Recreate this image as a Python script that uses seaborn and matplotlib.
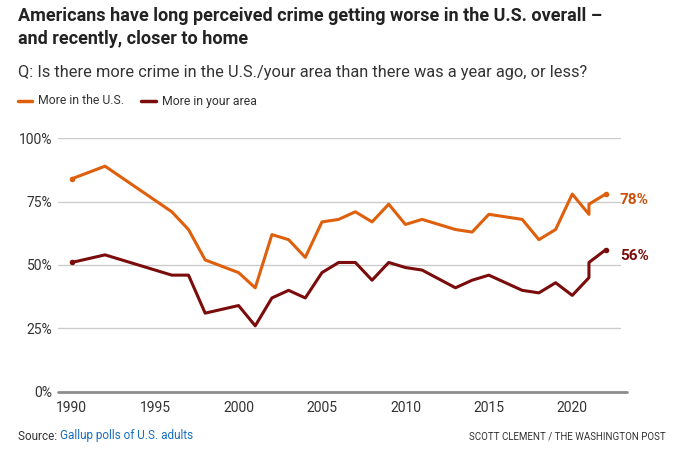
import matplotlib
matplotlib.use("Agg")
import matplotlib.pyplot as plt
import seaborn as sns
import pandas as pd
from matplotlib import font_manager

years = [1990, 1992, 1996, 1997, 1998, 2000, 2001, 2002, 2003, 2004, 2005, 2006,
         2007, 2008, 2009, 2010, 2011, 2013, 2014, 2015, 2017, 2018, 2019, 2020,
         2021, 2021, 2022]
us_values = [84, 89, 71, 64, 52, 47, 41, 62, 60, 53, 67, 68,
             71, 67, 74, 66, 68, 64, 63, 70, 68, 60, 64, 78,
             70, 74, 78]
area_values = [51, 54, 46, 46, 31, 34, 26, 37, 40, 37, 47, 51,
               51, 44, 51, 49, 48, 41, 44, 46, 40, 39, 43, 38,
               45, 51, 56]
series_names = ["More in the U.S.", "More in your area"]
y_ticks = [0, 25, 50, 75, 100]
x_ticks = [1990, 1995, 2000, 2005, 2010, 2015, 2020]

ORANGE = "#de5f0c"
DARK = "#7a0c0c"

sns.set_theme(style="white")
avail = {f.name for f in font_manager.fontManager.ttflist}
fam = [f for f in ["Liberation Sans Narrow", "Roboto", "DejaVu Sans"] if f in avail]
plt.rcParams["font.family"] = fam

df = pd.DataFrame({
    "year": years + years,
    "value": us_values + area_values,
    "series": [series_names[0]] * len(years) + [series_names[1]] * len(years),
})

fig = plt.figure(figsize=(6.77, 4.57), dpi=100)
ax = fig.add_axes([58 / 677, 65.3 / 457, (627 - 58) / 677, (318.7 - 65.3) / 457])

sns.lineplot(data=df, x="year", y="value", hue="series", palette=[ORANGE, DARK],
             estimator=None, sort=False, units="series", linewidth=2.2, ax=ax,
             legend=False)

# end markers
for vals, col in [(us_values, ORANGE), (area_values, DARK)]:
    ax.scatter([years[0], years[-1]], [vals[0], vals[-1]], s=16, color=col,
               zorder=5, clip_on=False, linewidths=0)

x0, x1 = 1989.18, 2023.28
ax.set_xlim(x0, x1)
ax.set_ylim(0, 100)

grid_end = 2022.85
for t in y_ticks[1:]:
    ax.plot([x0, grid_end], [t, t], color="#cccccc", lw=1, zorder=0)
ax.plot([x0, x1], [0, 0], color="#8c8c8c", lw=2, zorder=1, clip_on=False)

for s in ax.spines.values():
    s.set_visible(False)

ax.set_yticks(y_ticks)
ax.set_yticklabels([f"{t}%" for t in y_ticks], fontsize=10, color="#333333")
ax.set_xticks(x_ticks)
ax.set_xticklabels([str(t) for t in x_ticks], fontsize=10, color="#333333")
ax.tick_params(axis="y", length=0, pad=4)
ax.tick_params(axis="x", length=0, pad=7)
ax.set_xlabel("")
ax.set_ylabel("")

# end labels
ax.text(years[-1] + 0.85, us_values[-1] - 2.3, f"{us_values[-1]}%", color="#c9500a",
        fontsize=11, fontweight="bold", va="center", ha="left", clip_on=False)
ax.text(years[-1] + 0.85, area_values[-1] - 2.5, f"{area_values[-1]}%", color=DARK,
        fontsize=11, fontweight="bold", va="center", ha="left", clip_on=False)

# title and subtitle
fig.text(18 / 677, 1 - 16 / 457,
         "Americans have long perceived crime getting worse in the U.S. overall –",
         fontsize=13, fontweight="bold", color="#222222", va="center", ha="left")
fig.text(18 / 677, 1 - 39 / 457, "and recently, closer to home",
         fontsize=13, fontweight="bold", color="#222222", va="center", ha="left")
fig.text(18 / 677, 1 - 72 / 457,
         "Q: Is there more crime in the U.S./your area than there was a year ago, or less?",
         fontsize=11.8, color="#333333", va="center", ha="left")

# legend
ly = 1 - 101 / 457
for (xs, xe, xt, name, col) in [(18, 32, 38, series_names[0], ORANGE),
                                (141, 156, 162, series_names[1], DARK)]:
    fig.add_artist(plt.Line2D([xs / 677, xe / 677], [ly, ly], color=col, lw=2.5))
    fig.text(xt / 677, ly, name, fontsize=8.8, color="#333333", va="center", ha="left")

# footer
fy = 1 - 436 / 457
t1 = fig.text(18 / 677, fy, "Source: ", fontsize=8.5, color="#333333", va="center", ha="left")
fig.canvas.draw()
bb = t1.get_window_extent()
fig.text(bb.x1 / 677, fy, "Gallup polls of U.S. adults", fontsize=8.5, color="#1a6fc0",
         va="center", ha="left")
fig.text(666 / 677, fy, "SCOTT CLEMENT / THE WASHINGTON POST", fontsize=7,
         color="#333333", va="center", ha="right")

fig.savefig("out.png", dpi=100)
